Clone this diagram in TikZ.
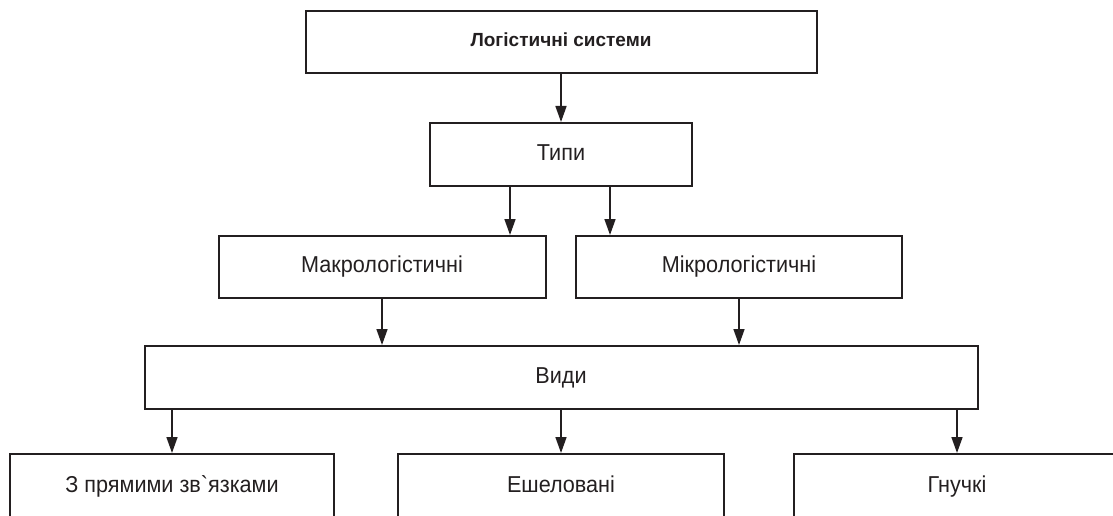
\documentclass[tikz,border=0pt]{standalone}
\usepackage{fontspec}
\setmainfont{Liberation Sans}[FakeStretch=0.94, Ligatures=TeXOff]
\newfontfamily\titlefont{Liberation Sans}
\usetikzlibrary{arrows.meta}
\definecolor{ink}{HTML}{231F20}
\tikzset{
  box/.style={draw=ink, line width=2pt, rectangle, minimum height=62pt, inner sep=0pt,
    text=ink, text height=16.5pt, text depth=5pt, font=\fontsize{23}{27}\selectfont},
  arr/.style={draw=ink, line width=1.6pt, -{Triangle[length=16pt,width=11pt]}}
}
\begin{document}
\begin{tikzpicture}[x=1pt,y=-1pt]
\useasboundingbox (0,0) rectangle (1113,516);
\clip (0,0) rectangle (1113,516);
\node[box, minimum width=511pt, text height=14pt, text depth=4pt,
  font=\titlefont\bfseries\fontsize{19}{23}\selectfont] (sys) at (561,42) {Логістичні системи};
\node[box, minimum width=262pt, minimum height=63pt] (types) at (561,154.5) {Типи};
\node[box, minimum width=327pt] (macro) at (382,267) {Макрологістичні};
\node[box, minimum width=326pt] (micro) at (739,267) {Мікрологістичні};
\node[box, minimum width=833pt, minimum height=63pt] (kinds) at (561,377.5) {Види};
% bottom row runs past the lower edge
\node[box, minimum width=324pt, minimum height=66pt] (direct) at (172,487) {З прямими зв`язками};
\node[box, minimum width=326pt, minimum height=66pt] (echel) at (561,487) {Ешеловані};
\node[box, minimum width=326pt, minimum height=66pt] (flex) at (957,487) {Гнучкі};
\draw[arr] (sys) -- (types);
\draw[arr] ([xshift=-51pt]types.south) coordinate (t1) -- (t1 |- macro.north);
\draw[arr] ([xshift=49pt]types.south) coordinate (t2) -- (t2 |- micro.north);
\draw[arr] (macro) -- (macro |- kinds.north);
\draw[arr] (micro) -- (micro |- kinds.north);
\draw[arr] (kinds.south -| direct) -- (direct);
\draw[arr] (kinds.south -| echel) -- (echel);
\draw[arr] (kinds.south -| flex) -- (flex);
\end{tikzpicture}
\end{document}
